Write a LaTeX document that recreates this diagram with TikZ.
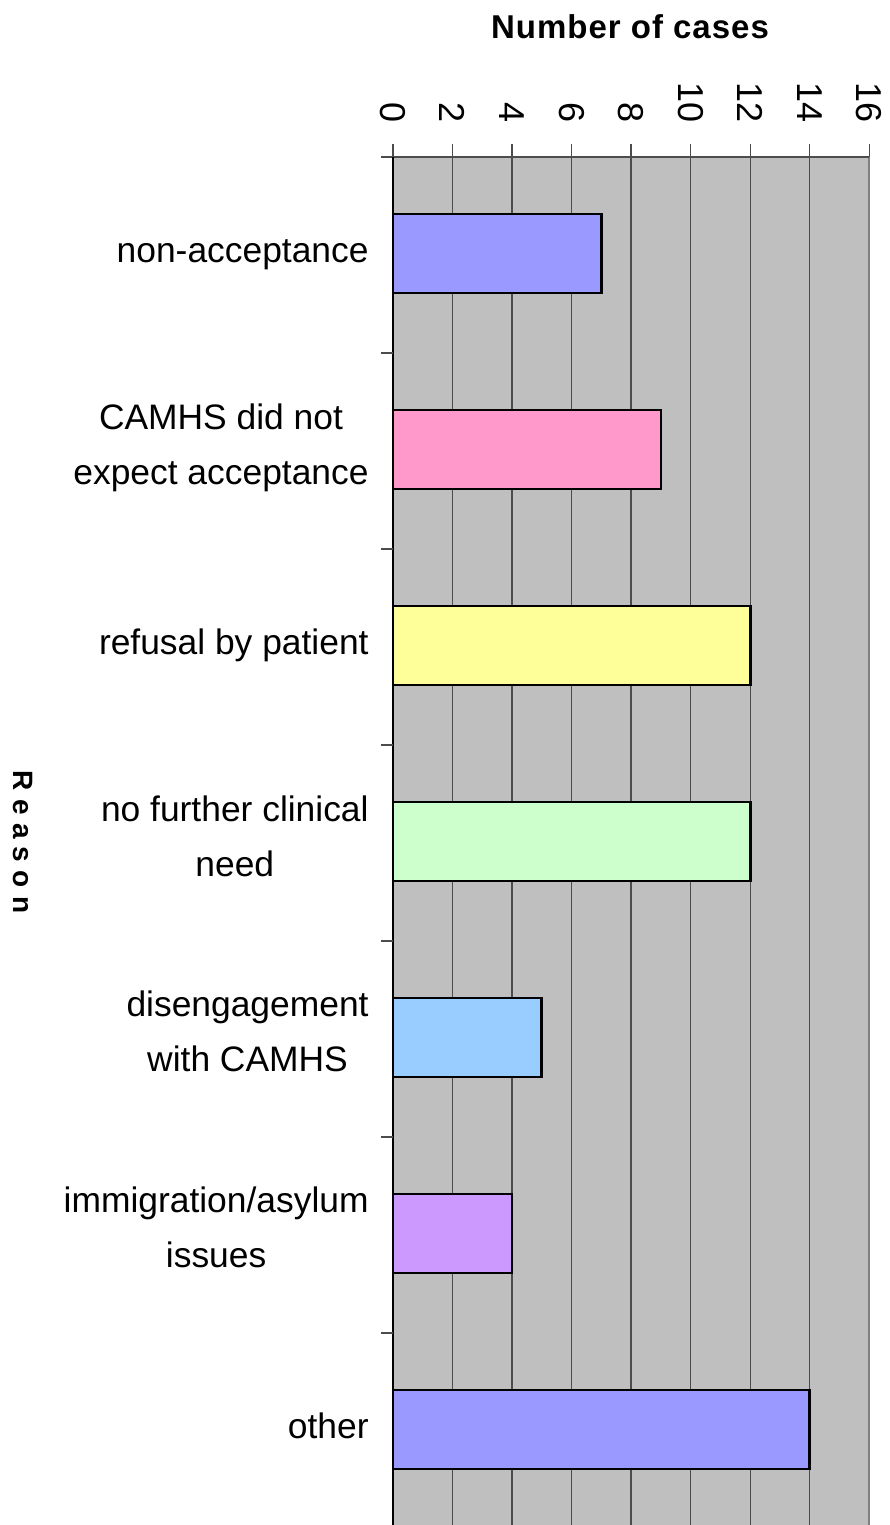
\documentclass[tikz,border=0pt]{standalone}
\usepackage{fontspec}
\setmainfont{Liberation Sans}

\definecolor{barblue}{HTML}{9999FF}
\definecolor{barpink}{HTML}{FF99CC}
\definecolor{baryellow}{HTML}{FFFF99}
\definecolor{bargreen}{HTML}{CCFFCC}
\definecolor{barsky}{HTML}{99CCFF}
\definecolor{barviolet}{HTML}{CC99FF}

\begin{document}
\begin{tikzpicture}
	[
		x=0.5pt, y=-0.5pt,
		grid/.style = {draw=black!70, line width=0.7pt},
		bar/.style = {draw=black, line width=1.4pt},
		reasonlabel/.style = {anchor=east, align=center, inner sep=0pt, font=\fontsize{17.7}{27.5}\selectfont},
		countlabel/.style = {anchor=east, rotate=-90, inner sep=0pt, font=\fontsize{18}{20}\selectfont},
		axistitle/.style = {inner sep=0pt, font=\bfseries}
	]
	
	\def\xl{393}
	\def\u{29.77}
	\def\yt{157}
	\def\h{196}
	
	\useasboundingbox (0,0) rectangle (889,1525);
	
	% plot area
	\fill [black!25] (\xl, \yt) rectangle ({\xl + 16*\u}, 1525);
	\foreach \v in {2,4,...,14}
		\draw [grid] ({\xl + \v*\u}, \yt) -- ({\xl + \v*\u}, 1525);
	\draw [draw=black!50, line width=0.9pt] ({\xl + 16*\u}, \yt) -- ({\xl + 16*\u}, 1525);
	
	% axes and ticks
	\draw [grid] (\xl - 12, \yt) -- ({\xl + 16*\u}, \yt);
	\draw [black, line width=0.8pt] (\xl, \yt) -- (\xl, 1525);
	\foreach \v in {0,2,...,16}
		\draw [grid] ({\xl + \v*\u}, \yt - 13) -- ({\xl + \v*\u}, \yt);
	\foreach \k in {1,...,6}
		\draw [grid] (\xl - 12, {\yt + \k*\h}) -- (\xl, {\yt + \k*\h});
	
	% bars
	\foreach \k/\v/\c in {0/7/barblue, 1/9/barpink, 2/12/baryellow, 3/12/bargreen, 4/5/barsky, 5/4/barviolet, 6/14/barblue}
		\draw [bar, fill=\c] (\xl, {\yt + \k*\h + 57}) rectangle ({\xl + \v*\u}, {\yt + \k*\h + 136});
	
	% value labels
	\foreach \v in {0,2,...,16}
		\node [countlabel] (n\v) at ({\xl + \v*\u}, 123) {\v};
	
	% reason labels
	\node [reasonlabel] (nonaccept) at (369, {\yt + 0*\h + 94}) {\strut non-acceptance};
	\node [reasonlabel] (notexpect) at (369, {\yt + 1*\h + 93}) {\strut CAMHS did not\\\strut expect acceptance};
	\node [reasonlabel] (refusal) at (369, {\yt + 2*\h + 94}) {\strut refusal by patient};
	\node [reasonlabel] (noneed) at (369, {\yt + 3*\h + 93}) {\strut no further clinical\\\strut need};
	\node [reasonlabel] (disengage) at (369, {\yt + 4*\h + 92}) {\strut disengagement\\\strut with CAMHS};
	\node [reasonlabel] (asylum) at (369, {\yt + 5*\h + 92}) {\strut immigration/asylum\\\strut issues};
	\node [reasonlabel] (other) at (369, {\yt + 6*\h + 94}) {\strut other};
	
	% axis titles
	\node [axistitle] (xtitle) at (630, 27) {\fontsize{16.5}{20}\selectfont\addfontfeatures{LetterSpace=3}Number of cases};
	\node [axistitle, rotate=-90] (ytitle) at (23, 842) {\fontsize{14}{18}\selectfont\addfontfeatures{LetterSpace=30}Reason};
	
\end{tikzpicture}
\end{document}
